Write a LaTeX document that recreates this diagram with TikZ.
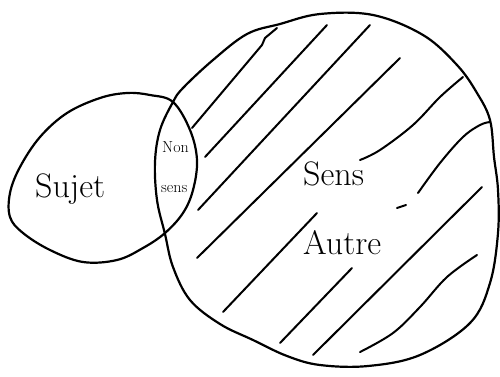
\documentclass[tikz,border=0pt]{standalone}
\begin{document}
\begin{tikzpicture}[x=1pt,y=-1pt,
  outline/.style={line width=2.2pt, line join=round},
  hatch/.style={line width=2pt, line cap=round, line join=round},
  lbl/.style={inner sep=0pt, font=\fontsize{34}{34}\selectfont},
  small/.style={inner sep=0pt, font=\fontsize{16}{16}\selectfont}]
\useasboundingbox (0,0) rectangle (500,376);
% big circle (Autre)
\draw[outline] plot[smooth cycle, tension=0.6] coordinates {
  (173,102) (183,88) (213,60) (247,34) (280,24) (320,14) (373,15) (423,35)
  (457,65) (477,93) (490,120) (494,157) (498,190) (498,233) (490,283)
  (470,323) (420,355) (368,366) (320,365) (287,356) (253,340) (220,324)
  (190,300) (173,267) (165,234) (157,200) (155,162) (160,130)};
% left circle (Sujet)
\draw[outline] plot[smooth cycle, tension=0.6] coordinates {
  (173,102) (190,130) (197,160) (193,190) (183,213) (165,233) (143,248)
  (117,260) (83,262) (50,250) (23,233) (10,217) (10,193) (20,167) (40,137)
  (67,113) (100,98) (127,93) (150,95)};
% hatching
\draw[hatch] (192,128) -- (262,45) -- (265,38) -- (277,28);
\draw[hatch] (205,157) -- (327,25);
\draw[hatch] (198,210) -- (370,25);
\draw[hatch] (197,258) -- (400,58);
\draw[hatch] plot[smooth, tension=0.6] coordinates {(360,160) (380,150) (413,125) (440,97) (463,77)};
\draw[hatch] (223,312) -- (317,213);
\draw[hatch] plot[smooth, tension=0.6] coordinates {(418,193) (440,163) (463,137) (480,125) (490,122)};
\draw[hatch] (313,355) -- (482,187);
\draw[hatch] (280,343) -- (352,268);
\draw[hatch] plot[smooth, tension=0.6] coordinates {(360,352) (393,333) (420,307) (447,277) (477,255)};
\draw[hatch] (397,208) -- (406,205);
% labels
\node[lbl, anchor=base west] (sujet) at (35,197) {Sujet};
\node[lbl, anchor=base west] (sens) at (303,185) {Sens};
\node[lbl, anchor=base west] (autre) at (303,254) {Autre};
\node[small, anchor=base west] (non) at (162,152) {Non};
\node[small, anchor=base west] (nsens) at (161,192) {sens};
\end{tikzpicture}
\end{document}
